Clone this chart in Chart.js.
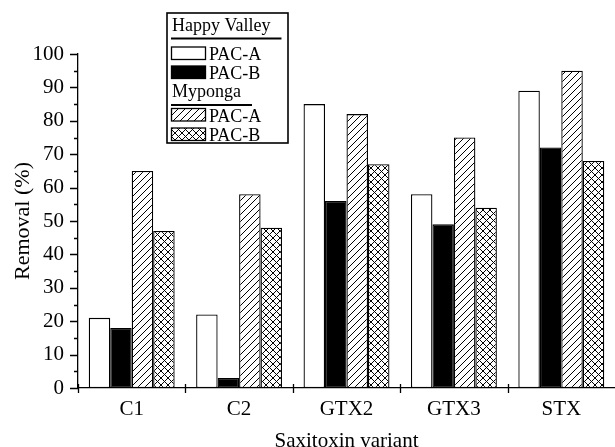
<!DOCTYPE html>
<html>
<head>
<meta charset="utf-8">
<script src="https://cdn.jsdelivr.net/npm/chart.js@4/dist/chart.umd.min.js"></script>
<style>
  html, body { margin: 0; padding: 0; background: #fff; }
  #wrap { width: 615px; height: 447px; }
</style>
</head>
<body>
<div id="wrap"><canvas id="removalChart"></canvas></div>
<script>
// Data
const variants = ['C1', 'C2', 'GTX2', 'GTX3', 'STX'];
const sites = ['Happy Valley', 'Myponga'];
const treatments = ['PAC-A', 'PAC-B'];
const happyValleyA = [21, 22, 85, 58, 89];
const happyValleyB = [18, 3, 56, 49, 72];
const mypongaA = [65, 58, 82, 75, 95];
const mypongaB = [47, 48, 67, 54, 68];
const yTicks = [0, 10, 20, 30, 40, 50, 60, 70, 80, 90, 100];

const serif = "'Liberation Serif', 'Times New Roman', serif";

// Hatch fills
function makePattern(cross) {
    const size = 7;
    const c = document.createElement('canvas');
    c.width = size; c.height = size;
    const ctx = c.getContext('2d');
    ctx.fillStyle = '#fff';
    ctx.fillRect(0, 0, size, size);
    ctx.strokeStyle = '#000';
    ctx.lineWidth = 1;
    ctx.beginPath();
    ctx.moveTo(-1, size + 1); ctx.lineTo(size + 1, -1);
    ctx.moveTo(-1, 1); ctx.lineTo(1, -1);
    ctx.moveTo(size - 1, size + 1); ctx.lineTo(size + 1, size - 1);
    if (cross) {
        ctx.moveTo(-1, -1); ctx.lineTo(size + 1, size + 1);
        ctx.moveTo(size - 1, -1); ctx.lineTo(size + 1, 1);
        ctx.moveTo(-1, size - 1); ctx.lineTo(1, size + 1);
    }
    ctx.stroke();
    return ctx.createPattern(c, 'repeat');
}
const hatch = makePattern(false);
const crossHatch = makePattern(true);

const barStyle = { borderColor: '#000', borderWidth: 1.3, borderSkipped: false };

const data = {
    labels: variants,
    datasets: [
        { label: sites[0] + ' ' + treatments[0], data: happyValleyA, backgroundColor: '#fff', ...barStyle },
        { label: sites[0] + ' ' + treatments[1], data: happyValleyB, backgroundColor: '#000', ...barStyle },
        { label: sites[1] + ' ' + treatments[0], data: mypongaA, backgroundColor: hatch, ...barStyle },
        { label: sites[1] + ' ' + treatments[1], data: mypongaB, backgroundColor: crossHatch, ...barStyle }
    ]
};

// Outward y ticks (major + minor) and x ticks crossing the axis at category edges
const axisTicks = {
    id: 'axisTicks',
    afterDraw(chart) {
        const ctx = chart.ctx;
        const x = chart.scales.x, y = chart.scales.y;
        ctx.save();
        ctx.strokeStyle = '#000';
        ctx.lineWidth = 1.3;
        ctx.beginPath();
        for (let v = 0; v <= 100; v += 5) {
            const py = Math.round(y.getPixelForValue(v)) + 0.5;
            const len = v % 10 === 0 ? 8 : 4;
            ctx.moveTo(x.left - len, py);
            ctx.lineTo(x.left, py);
        }
        const half = (x.getPixelForValue(1) - x.getPixelForValue(0)) / 2;
        for (let i = 0; i < variants.length; i++) {
            const px = Math.round(x.getPixelForValue(i) - half) + 0.5;
            ctx.moveTo(px, y.bottom - 4);
            ctx.lineTo(px, y.bottom + 5);
        }
        ctx.stroke();
        ctx.restore();
    }
};

// Grouped legend box (site headings with underlines)
const groupLegend = {
    id: 'groupLegend',
    afterDraw(chart) {
        const ctx = chart.ctx;
        const ds = chart.data.datasets;
        ctx.save();
        ctx.strokeStyle = '#000';
        ctx.fillStyle = '#fff';
        ctx.lineWidth = 1.6;
        ctx.fillRect(167, 13, 121, 130);
        ctx.strokeRect(167, 13, 121, 130);

        ctx.font = '18px ' + serif;
        ctx.textBaseline = 'alphabetic';
        const rows = [
            { head: sites[0], base: 31, line: 38.5, items: [[ds[0], 47, 60], [ds[1], 66, 79]] },
            { head: sites[1], base: 97, line: 105, items: [[ds[2], 108.5, 121.5], [ds[3], 128, 141]] }
        ];
        rows.forEach(r => {
            ctx.fillStyle = '#000';
            ctx.fillText(r.head, 172, r.base);
            const w = ctx.measureText(r.head).width;
            ctx.lineWidth = 2;
            ctx.beginPath();
            ctx.moveTo(171, r.line);
            ctx.lineTo(171 + w + 12, r.line);
            ctx.stroke();
            r.items.forEach(([d, top, base], j) => {
                ctx.fillStyle = d.backgroundColor;
                ctx.fillRect(171.5, top, 34, 12.5);
                ctx.lineWidth = 1.3;
                ctx.strokeRect(171.5, top, 34, 12.5);
                ctx.fillStyle = '#000';
                ctx.fillText(treatments[j], 209, base);
            });
        });
        ctx.restore();
    }
};

new Chart(document.getElementById('removalChart'), {
    type: 'bar',
    data: data,
    options: {
        responsive: true,
        maintainAspectRatio: false,
        animation: false,
        devicePixelRatio: 1,
        layout: { padding: { top: 54, right: 0, left: 0, bottom: 0 } },
        plugins: {
            legend: { display: false },
            tooltip: { enabled: false }
        },
        datasets: {
            bar: { categoryPercentage: 0.8, barPercentage: 1 }
        },
        scales: {
            x: {
                afterFit: s => { s.height = 59; },
                grid: { display: false, drawTicks: false },
                border: { display: true, color: '#000', width: 1.3 },
                ticks: { color: '#000', padding: 9, font: { family: serif, size: 21 } },
                title: {
                    display: true,
                    text: 'Saxitoxin variant',
                    color: '#000',
                    font: { family: serif, size: 21, lineHeight: 0.55 },
                    padding: 0
                }
            },
            y: {
                min: 0,
                max: 100,
                afterFit: s => { s.width = 78; },
                afterBuildTicks: s => { s.ticks = yTicks.map(v => ({ value: v })); },
                grid: { display: false, drawTicks: false },
                border: { display: true, color: '#000', width: 1.3 },
                ticks: { color: '#000', padding: 14, font: { family: serif, size: 21 } },
                title: {
                    display: true,
                    text: 'Removal (%)',
                    color: '#000',
                    font: { family: serif, size: 22 },
                    padding: { top: 10, bottom: 0 }
                }
            }
        }
    },
    plugins: [axisTicks, groupLegend]
});
</script>
</body>
</html>
